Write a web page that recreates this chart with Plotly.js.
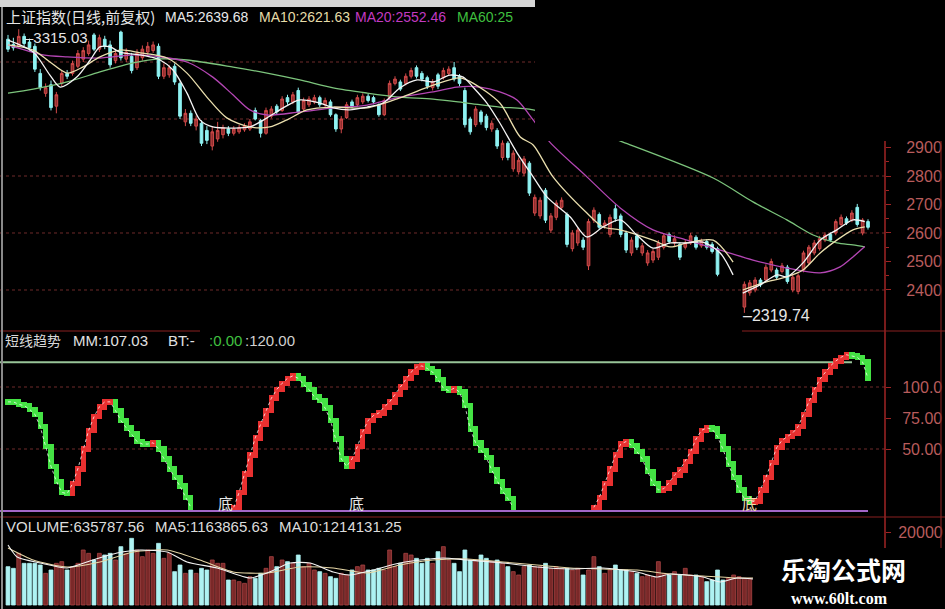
<!DOCTYPE html>
<html><head><meta charset="utf-8">
<script src="https://cdn.plot.ly/plotly-3.0.1.min.js"></script>
<style>html,body{margin:0;padding:0;background:#000;}#chart{width:945px;height:609px;}</style>
</head><body><div id="chart"></div>
<script>
// ---------- price candles (index = trading day) ----------
const opens = [3280,3262,3255,3290,3270,3255,3160,3090,3120,3045,
3125,3160,3160,3185,3210,3230,3295,3245,3280,3260,
3205,3305,3210,3220,3180,3215,3235,3240,3255,3150,
3155,3185,3125,2990,3020,2975,2985,2960,2905,2930,
2945,2965,2950,2955,2962,2965,3030,2995,2950,3010,
3045,3030,3075,3060,3100,3035,3050,3060,3075,3050,
3060,3015,2965,3005,3060,3050,3060,3080,3075,3050,
3015,3075,3125,3130,3125,3150,3180,3160,3145,3110,
3155,3145,3160,3180,3150,3100,3000,2980,3025,3010,
2965,2960,2865,2915,2825,2815,2810,2845,2670,2660,
2750,2610,2655,2690,2665,2545,2565,2575,2485,2645,
2665,2625,2595,2685,2660,2600,2530,2590,2530,2495,
2505,2515,2550,2595,2565,2560,2550,2565,2585,2555,
2570,2560,2545,null,null,null,null,2340,2390,2400,
2435,2435,2470,2470,2465,2480,2400,2395,2470,2495,
2530,2545,2575,2595,2600,2630,2650,2645,2690,2600,
2640];
const highs = [3295,3285,3315.03,3300,3282,3265,3175,3125,3135,3095,
3170,3172,3205,3242,3252,3275,3302,3296,3292,3275,
3242,3310,3248,3232,3245,3258,3270,3272,3265,3195,
3190,3195,3132,3035,3030,3012,2995,2975,2975,2990,
2980,2975,2975,2980,2985,3000,3040,3000,3040,3045,
3052,3080,3085,3095,3110,3075,3080,3085,3082,3075,
3068,3020,3010,3060,3068,3085,3090,3088,3082,3055,
3072,3135,3150,3138,3160,3180,3188,3168,3152,3140,
3162,3180,3185,3200,3158,3110,3008,3045,3032,3018,
2995,2968,2925,2922,2890,2865,2870,2852,2735,2725,
2758,2670,2715,2725,2672,2610,2620,2585,2650,2690,
2672,2645,2665,2700,2668,2608,2585,2598,2565,2540,
2545,2575,2600,2602,2592,2568,2575,2600,2592,2580,
2578,2568,2552,null,null,null,null,2430,2435,2445,
2442,2490,2510,2478,2495,2488,2455,2458,2538,2558,
2575,2590,2602,2602,2648,2665,2658,2680,2702,2652,
2648];
const lows = [3235,3240,3250,3255,3240,3165,3100,3078,3030,3020,
3115,3140,3152,3178,3200,3222,3238,3235,3245,3180,
3195,3205,3200,3160,3172,3205,3225,3232,3140,3140,
3145,3120,3000,2975,2975,2960,2905,2912,2890,2920,
2932,2940,2942,2948,2955,2958,2995,2935,2945,3002,
3015,3025,3050,3052,3018,3028,3042,3052,3042,3040,
3008,2955,2950,3000,3038,3042,3052,3058,3052,3008,
3010,3070,3118,3098,3118,3142,3142,3132,3105,3100,
3105,3138,3152,3132,3115,2970,2945,2972,2980,2960,
2955,2895,2855,2855,2815,2805,2800,2730,2660,2650,
2635,2600,2645,2682,2550,2535,2555,2540,2470,2635,
2610,2615,2585,2640,2585,2530,2520,2540,2520,2485,
2495,2505,2542,2562,2555,2505,2542,2558,2542,2548,
2542,2528,2448,null,null,null,null,2319.74,2380,2392,
2410,2428,2462,2438,2458,2422,2392,2385,2462,2488,
2522,2538,2568,2568,2592,2622,2628,2638,2622,2592,
2612];
const closes = [3245,3250,3290,3265,3250,3175,3110,3110,3040,3085,
3160,3150,3195,3230,3240,3260,3245,3285,3255,3190,
3230,3215,3235,3170,3230,3245,3255,3260,3150,3180,
3180,3130,3010,3020,2985,3000,2915,2925,2955,2960,
2970,2950,2965,2970,2975,2990,3000,2950,3030,3035,
3025,3070,3060,3085,3025,3065,3070,3075,3050,3065,
3015,2965,3000,3050,3045,3075,3080,3065,3060,3015,
3065,3125,3140,3105,3150,3170,3150,3140,3115,3130,
3115,3170,3175,3140,3125,2980,2955,3035,2990,2970,
2985,2905,2915,2865,2880,2855,2860,2740,2725,2715,
2645,2660,2705,2715,2560,2600,2610,2550,2640,2680,
2620,2635,2655,2650,2595,2540,2575,2550,2555,2530,
2535,2565,2590,2570,2580,2515,2565,2590,2550,2570,
2550,2535,2455,null,null,null,null,2420,2425,2435,
2418,2480,2500,2445,2485,2430,2445,2450,2530,2550,
2565,2580,2593,2575,2640,2655,2635,2670,2630,2645,
2620];

// ---------- price moving averages (day index, value) ----------
const ma5X = [0,4.7,7.8,9.7,12.8,15.3,17.1,19,20.8,24.6,26.4,28.3,30.7,33.3,35.7,38.1,41.9,45,48.2,51.2,54.3,58,60.5,63.6,66.8,69.8,72.9,76.1,79.1,82.2,84.7,86.5,89.1,91.5,94.7,97.7,100.3,104.6,107.7,110.7,113.9,117,120,123.2,126.3,129.3,132.5,134.9,136,136.7,139.9,143.1,144.9,147.9,151.1,154.2,157.2,159.4];
const ma5Y = [3277,3235,3154,3112,3147,3207,3253,3253,3235,3225,3218,3207,3172,3091,2997,2972,2968,2972,3004,3039,3067,3056,3039,3032,3042,3056,3109,3137,3130,3154,3147,3112,3056,2986,2881,2797,2726,2656,2586,2621,2646,2593,2547,2565,2565,2568,2530,2453,null,2389,2418,2453,2446,2495,2575,2611,2646,2639.68];
const ma10X = [0,4.7,7.8,11,14,17.1,20.8,24.6,29.6,33.3,37,40.7,45,48.7,51.9,55.6,60.5,66.8,72.9,79.1,84.1,86.5,91.5,95.3,97.7,101.4,107.7,110.7,113.9,120,123.2,126.3,131.2,134.9,136,136.7,140.5,144.9,147.9,151.1,154.2,157.2,159.4];
const ma10Y = [3260,3242,3200,3161,3183,3218,3242,3232,3214,3161,3077,3004,2972,2972,2997,3032,3042,3039,3074,3119,3144,3126,3056,2937,2909,2797,2670,2621,2611,2575,2551,2565,2575,2498,null,2400,2425,2446,2470,2530,2575,2611,2621.63];
const ma20X = [0,6.5,11,17.1,23.3,28.3,33.3,38.1,41.9,45,48.2,54.3,60.5,66.8,72.9,79.1,83.5,87.8,91.5,94.7,97.7,100.8,107.7,113.9,120,126.3,132.5,138.6,144.9,151.1,154.8,157.2,159.4];
const ma20Y = [3260,3225,3218,3214,3225,3218,3200,3147,3084,3032,3014,3025,3039,3049,3077,3095,3112,3112,3095,3067,2997,2919,2797,2688,2611,2575,2540,2505,2477,2460,2481,2516,2552.46];
const ma60X = [0,4.7,11,17.1,23.3,28.3,33.3,41.9,48.2,54.3,60.5,66.8,72.9,79.1,85.4,91.5,97.7,114.4,131.2,138.6,144.9,149.8,154.2,157.2,159.4];
const ma60Y = [3091,3105,3130,3165,3197,3211,3207,3182,3161,3137,3109,3091,3077,3070,3056,3042,3032,2919,2793,2709,2646,2593,2565,2558,2551];

// ---------- short-term trend indicator MM ----------
const mm = [88,88,86,85,82,78,68,52,36,24,
15,14,22,34,50,65,76,84,88,88,
81,73,67,62,56,54,54,55,50,42,
34,27,20,11,3,null,null,null,null,null,
null,null,3,15,30,45,59,70,81,91,
98,103,107,109,107,102,98,92,89,83,
73,58,42,36,42,52,64,73,77,79,
84,88,94,100,107,112,116,117,115,112,
106,99,97,99,96,85,66,55,49,43,
33,24,16,10,3,null,null,null,null,null,
null,null,null,null,null,null,null,null,null,3,
11,22,34,45,54,56,53,48,42,32,
22,17,18,23,29,33,40,48,58,65,
67,66,60,50,38,27,17,10,7,8,
17,27,39,51,57,60,63,68,78,89,
98,106,112,117,121,124,126,125,124,120,
107];
const mmTop = 120, mmBottom = 0;
const bottomMarks = [40.4, 64.9, 138];

// ---------- volume (thousands) ----------
const volume = [1647,1577,2222,1792,1792,1792,1720,1362,1505,1792,
1863,1505,1648,1792,2365,2222,1935,2222,2150,2222,
1935,2508,2222,2867,2365,2078,2365,2222,2652,2007,
2222,1433,1720,1362,1505,1362,1577,1505,1935,1792,
1792,1075,1075,1003,932,1218,1147,1362,1577,2078,
1648,1935,1863,1792,2150,1648,1792,1505,1433,1362,
1218,1147,1362,1290,1505,1648,1720,1505,1505,1577,
1505,2365,1648,1792,2222,2150,2007,1792,2007,1792,
2293,2508,1935,1792,1433,2365,1935,1935,2150,2007,
1863,1935,1792,1648,1433,1290,1648,1720,1648,1648,
1792,1577,1648,1577,1577,1505,1577,1290,1505,2078,
1648,1362,1505,1720,1505,1505,1433,1362,1218,1290,
1218,1863,1362,1290,1433,1290,1577,1290,1290,1218,
1003,1075,1505,1075,1147,1290,1218,1147,1147];
const volUp = [0,0,1,0,0,0,0,1,0,1, 1,0,1,1,1,1,0,1,0,0, 1,0,1,0,1,1,1,1,0,1,
1,0,0,1,0,1,0,0,1,1, 1,0,1,1,1,1,0,0,1,1, 0,1,0,1,0,1,1,1,0,1,
0,0,1,1,0,1,1,0,0,0, 1,1,1,0,1,1,0,0,0,1, 0,1,1,0,0,0,0,1,0,0,
1,0,1,0,1,1,1,0,1,1, 0,1,1,1,0,1,1,0,1,1, 0,1,1,0,0,0,1,0,1,1,
1,1,1,0,1,0,1,1,0,1, 0,0,0,0,1,1,1,1,1];
const vma5X = [0,1.7,6,11,15.8,20.3,24.6,29.6,33.3,38.9,45,48.2,52.5,56.2,60.5,63.6,67.9,72.9,76.7,80.9,85.4,92.1,98.4,104.6,110.7,117,120.7,123.2,129.3,132.5,135.6,138.6];
const vma5Y = [2580,2064,1806,1591,1935,2236,2365,2279,1849,1591,1161,1376,1806,1806,1419,1290,1505,1806,1935,2021,1935,1806,1634,1548,1591,1419,1204,1333,1204,989,1161,1118];
const vma10X = [0,4.7,11,17.1,23.3,29.6,35.7,41.9,48.2,54.3,60.5,66.8,72.9,79.1,85.4,92.1,98.4,104.6,110.7,117,123.2,129.3,135.6,138.6];
const vma10Y = [2451,1935,1634,1849,2279,2365,1935,1419,1376,1634,1591,1376,1720,1935,1978,1849,1720,1591,1548,1505,1333,1247,1161,1161];

// ---------- axis labels ----------
const priceTicks = [2400,2500,2600,2700,2800,2900];
const priceGrid = [2400,2600,2800,3000,3200];
const mmTicks = [50,75,100], mmTickText = ['50.00','75.00','100.0'];
const volTicks = [3139], volTickText = ['20000'];

// ================= build =================
const W = 945, H = 609;
const px = x => x / W, py = y => 1 - y / H;
const LAT = 'Liberation Sans, Arial, sans-serif';
const CJK = 'Noto Sans CJK SC, sans-serif';
const XR = [-1.488, 163.16];
const XD = [0, 885 / W];

const cx=[],co=[],ch=[],cl=[],cc=[];
closes.forEach((c,i)=>{ if(c!=null){cx.push(i);co.push(opens[i]);ch.push(highs[i]);cl.push(lows[i]);cc.push(c);} });

const traces = [];
traces.push({type:'candlestick', x:cx, open:co, high:ch, low:cl, close:cc, xaxis:'x', yaxis:'y',
  increasing:{line:{color:'#d24a4a',width:1}, fillcolor:'#8e2e2e'},
  decreasing:{line:{color:'#8ff2f2',width:1}, fillcolor:'#8ff2f2'},
  whiskerwidth:0, hoverinfo:'skip'});
const maLine = (x,y,color) => ({type:'scatter', mode:'lines', x, y, xaxis:'x', yaxis:'y',
  line:{color, width:1.3, shape:'spline', smoothing:0.8}, connectgaps:false, hoverinfo:'skip'});
traces.push(maLine(ma60X, ma60Y, '#7cc47c'));
traces.push(maLine(ma20X, ma20Y, '#b446b4'));
traces.push(maLine(ma10X, ma10Y, '#eadfae'));
traces.push(maLine(ma5X, ma5Y, '#f4f4f4'));

// indicator blocks
const bx=[], bb=[], bh=[], bc=[];
let lastUp = false;
mm.forEach((v,i)=>{
  if (v==null) return;
  const hasPrev = i>0 && mm[i-1]!=null;
  const p = hasPrev ? mm[i-1] : v;
  let up;
  if (v>p) up = true; else if (v<p) up = false;
  else if (!hasPrev) up = (mm[i+1]!=null && mm[i+1]>v); else up = lastUp;
  lastUp = up;
  const lo = Math.min(p,v)-2.2, hi = Math.max(p,v)+2.2;
  bx.push(i); bb.push(lo); bh.push(hi-lo); bc.push(up ? '#e83030' : '#44e244');
});
traces.push({type:'bar', x:bx, y:bh, base:bb, width:1.0, xaxis:'x2', yaxis:'y2',
  marker:{color:bc, line:{width:0}}, hoverinfo:'skip'});
traces.push({type:'scatter', mode:'lines', x:mm.map((_,i)=>i), y:mm, xaxis:'x2', yaxis:'y2',
  line:{color:'rgba(255,255,255,0.75)', width:1, dash:'dot'}, connectgaps:false, hoverinfo:'skip'});

// volume
traces.push({type:'bar', x:volume.map((_,i)=>i), y:volume, width:0.72, xaxis:'x3', yaxis:'y3',
  marker:{color:volUp.map(u=>u?'#7a2828':'#aef2f2'), line:{color:volUp.map(u=>u?'#a84444':'#aef2f2'), width:0.8}},
  hoverinfo:'skip'});
const vLine = (x,y,color)=>({type:'scatter', mode:'lines', x, y, xaxis:'x3', yaxis:'y3',
  line:{color, width:1.1, shape:'spline', smoothing:0.6}, hoverinfo:'skip'});
traces.push(vLine(vma10X, vma10Y, '#e6d6a6'));
traces.push(vLine(vma5X, vma5Y, '#f2f2f2'));

const AX_RED = '#a02424';
const xBase = {domain:XD, range:XR, showgrid:false, zeroline:false, showticklabels:false, ticks:'', showline:false, fixedrange:true};
const yBase = (extra)=>Object.assign({side:'right', showgrid:false, zeroline:false, showline:false,
  ticks:'outside', ticklen:5, tickcolor:AX_RED, tickwidth:1,
  tickfont:{family:LAT, size:16, color:'#b85c5c'}, fixedrange:true}, extra);

const layout = {
  width:W, height:H, margin:{l:0,r:0,t:0,b:0}, paper_bgcolor:'#000', plot_bgcolor:'#000',
  showlegend:false, hovermode:false, bargap:0,
  xaxis:Object.assign({}, xBase, {anchor:'y', rangeslider:{visible:false}}),
  xaxis2:Object.assign({}, xBase, {anchor:'y2', matches:'x'}),
  xaxis3:Object.assign({}, xBase, {anchor:'y3', matches:'x'}),
  yaxis:yBase({domain:[py(330), py(8)], range:[2259.6, 3389.5], anchor:'x', tickvals:priceTicks, ticklabelstandoff:12,
    minor:{ticks:'outside', ticklen:3, tickcolor:AX_RED, tickvals:[2450,2550,2650,2750,2850]}}),
  yaxis2:yBase({domain:[py(517), py(331)], range:[-4.84, 145.16], anchor:'x2', tickvals:mmTicks, ticktext:mmTickText, ticklabelstandoff:8}),
  yaxis3:yBase({domain:[0, py(517)], range:[-172, 3784], anchor:'x3', tickvals:volTicks, ticktext:volTickText, ticklabelstandoff:4}),
  shapes:[], annotations:[]
};
const S = layout.shapes;
priceGrid.forEach(v=>S.push({type:'line', xref:'paper', yref:'y', x0:0, x1:px(885), y0:v, y1:v, line:{color:'#6e2a2a', width:1, dash:'dot'}, layer:'below'}));
[50,100].forEach(v=>S.push({type:'line', xref:'paper', yref:'y2', x0:0, x1:px(885), y0:v, y1:v, line:{color:'#6e2a2a', width:1, dash:'dot'}, layer:'below'}));
S.push({type:'line', xref:'paper', yref:'y2', x0:0, x1:px(852), y0:mmTop, y1:mmTop, line:{color:'#98c498', width:2}, layer:'below'});
S.push({type:'line', xref:'paper', yref:'y2', x0:0, x1:px(868), y0:mmBottom, y1:mmBottom, line:{color:'#a466c8', width:2}, layer:'below'});
const pl = (x0,y0,x1,y1,color,w)=>S.push({type:'line', xref:'paper', yref:'paper', x0:px(x0), y0:py(y0), x1:px(x1), y1:py(y1), line:{color, width:w}, layer:'above'});
pl(885,141,885,550,AX_RED,1.5);
pl(941,141,941,550,'#7a2020',1.2);
pl(0,331,200,331,'#8a2020',1.2);
pl(742,331,945,331,'#8a2020',1.2);
pl(0,517,945,517,'#8a2020',1.2);
const rect = (x0,y0,x1,y1,fill)=>S.push({type:'rect', xref:'paper', yref:'paper', x0:px(x0), y0:py(y1), x1:px(x1), y1:py(y0), fillcolor:fill, line:{width:0}, layer:'above'});
rect(0,0,535,7,'#d6d6d6');
rect(535,0,945,141,'#000');
rect(755,548,945,609,'#000');
pl(2,7,2,609,'#8a8a8a',2);

const A = layout.annotations;
const txt = (x,y,text,color,size,family,extra)=>A.push(Object.assign({xref:'paper', yref:'paper', x:px(x), y:py(y), text,
  showarrow:false, xanchor:'left', yanchor:'middle', font:{color, size, family}}, extra||{}));
txt(4,17,'上证指数(日线,前复权)','#e6e6e6',15,CJK);
txt(163,17,'MA5:2639.68','#e8e8e8',14,LAT);
txt(257,17,'MA10:2621.63','#e6dca8',14,LAT);
txt(353,17,'MA20:2552.46','#c23ac2',14,LAT);
txt(455,17,'MA60:25','#3fbf3f',14,LAT);
txt(3,340,'短线趋势','#d8d8d8',14,CJK);
txt(71,340,'MM:107.03','#e0e0e0',15,LAT);
txt(166,340,'BT:-','#e0e0e0',15,LAT);
txt(207,340,':0.00','#40c040',15,LAT);
txt(243,340,':120.00','#d0d0d0',15,LAT);
txt(4,526,'VOLUME:635787.56','#dcdcdc',15,LAT);
txt(153,526,'MA5:1163865.63','#dcdcdc',15,LAT);
txt(277,526,'MA10:1214131.25','#dcdcdc',15,LAT);
A.push({xref:'x', yref:'y', x:2, y:3315.03, text:'–3315.03', showarrow:false, xanchor:'left', yanchor:'top', yshift:2, xshift:4,
  font:{color:'#e6e6e6', size:15, family:LAT}});
A.push({xref:'x', yref:'y', x:137, y:2319.74, text:'–2319.74', showarrow:false, xanchor:'left', yanchor:'middle', yshift:-3, xshift:-3,
  font:{color:'#e6e6e6', size:16, family:LAT}});
bottomMarks.forEach((x,k)=>A.push({xref:'x2', yref:'y2', x, y:6.5, text:'底', showarrow:false, xanchor:'center', yanchor:'middle',
  font:{color:k===2?'#f0dcae':'#e8e8e8', size:15, family:CJK}}));
txt(843,569,'<b>乐淘公式网</b>','#ffffff',25,CJK,{xanchor:'center'});
txt(839,598,'<b>www.60lt.com</b>','#ffffff',16,'Liberation Serif, Times New Roman, serif',{xanchor:'center'});

Plotly.newPlot('chart', traces, layout, {staticPlot:true, displayModeBar:false});
</script></body></html>
